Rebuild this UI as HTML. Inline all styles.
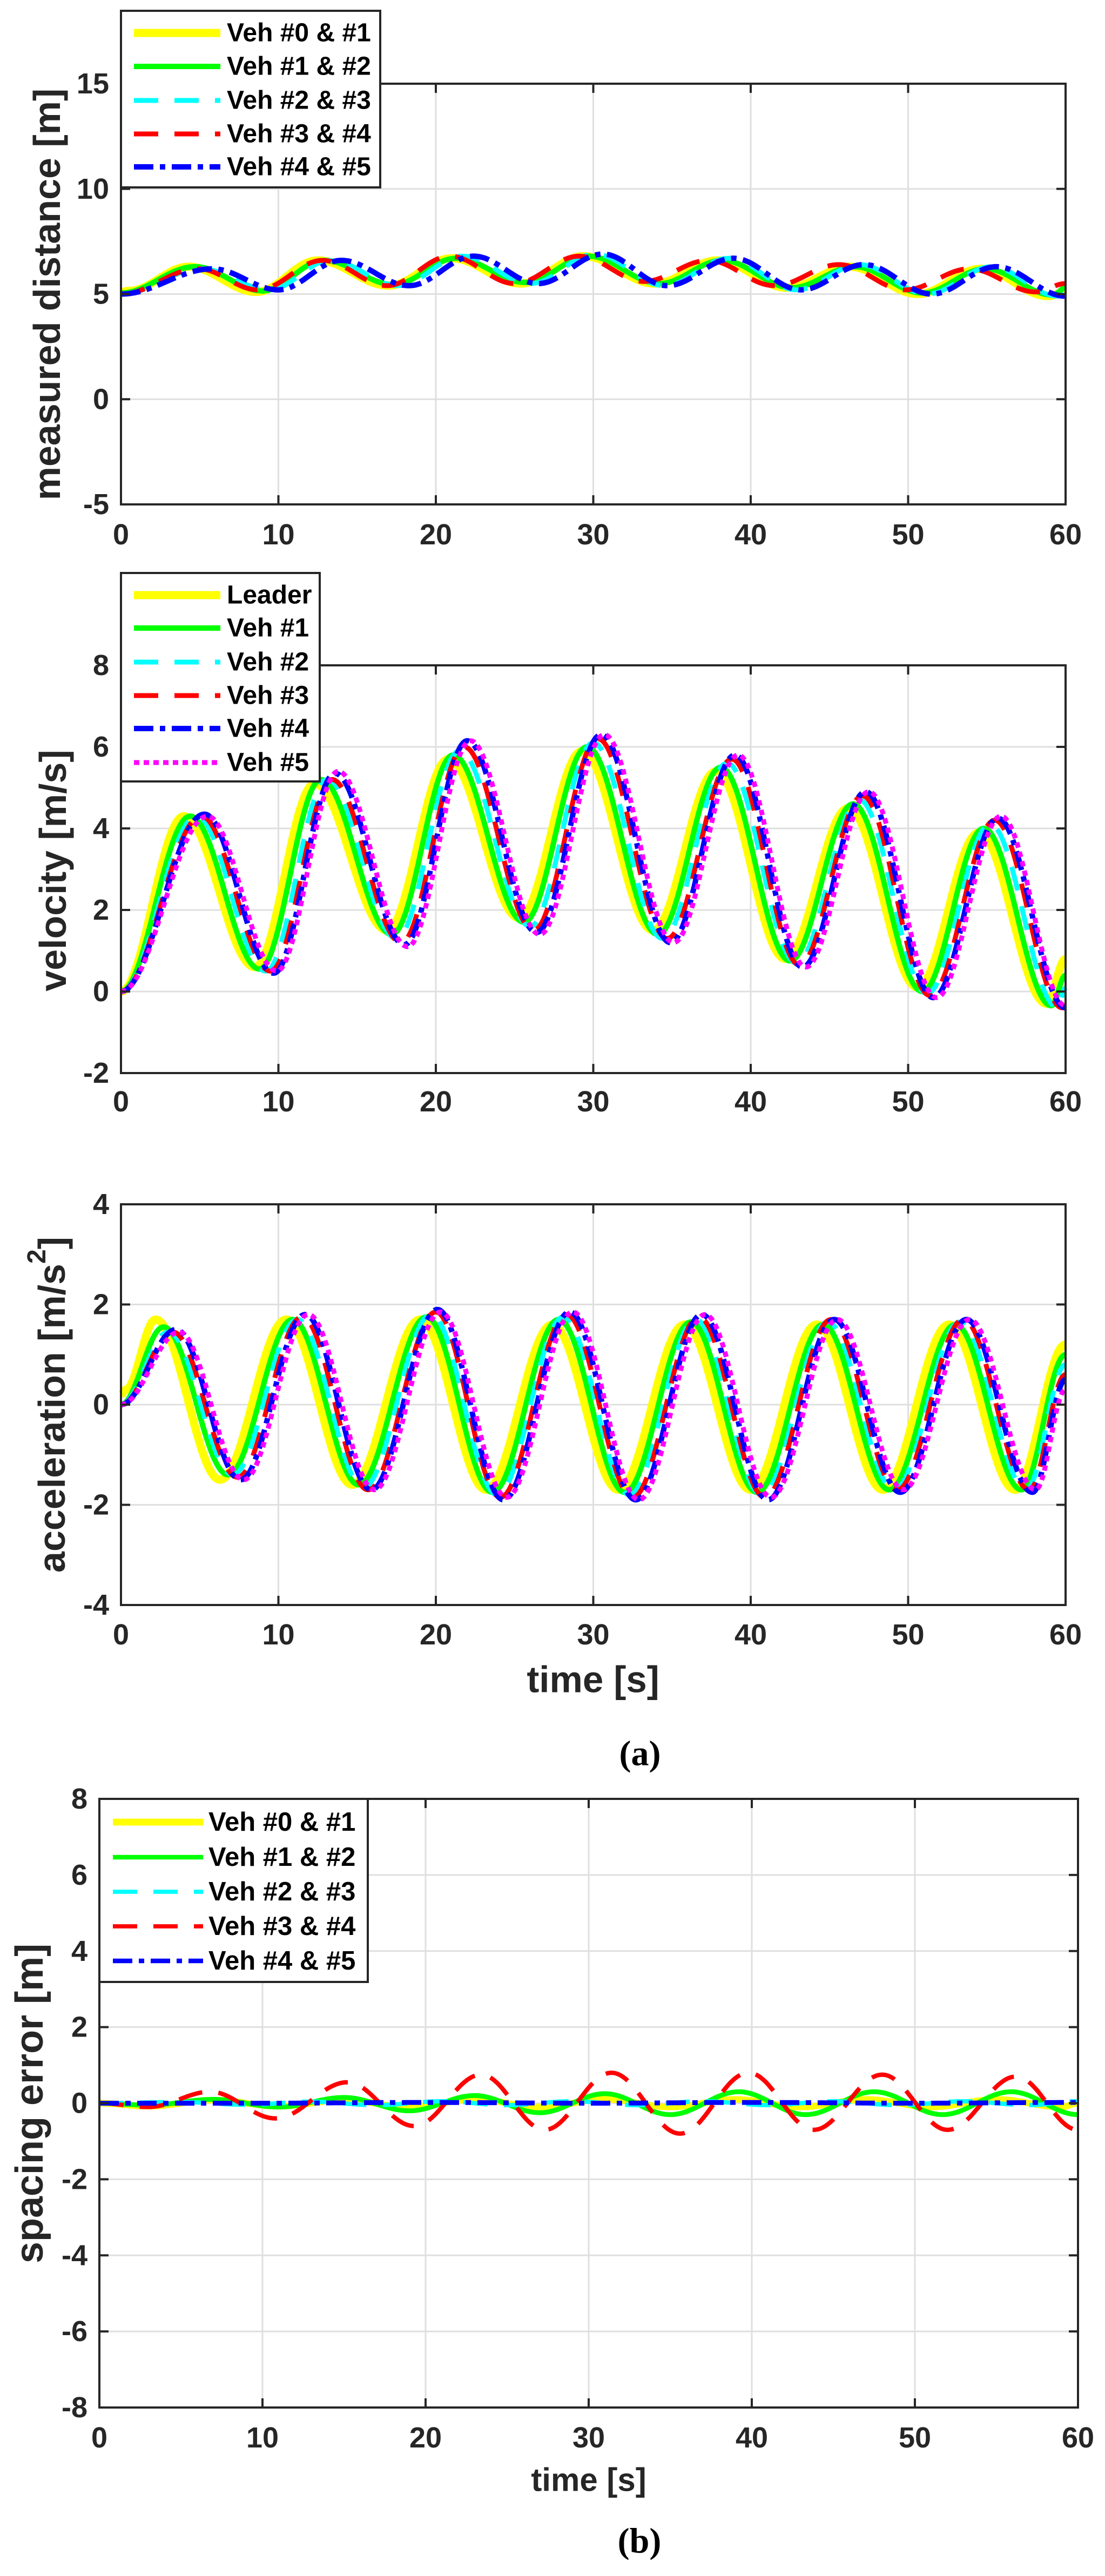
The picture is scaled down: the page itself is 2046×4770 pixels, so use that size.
<!DOCTYPE html>
<html><head><meta charset="utf-8"><style>
html,body{margin:0;padding:0;background:#fff}
svg text{font-family:"Liberation Sans",Arial,sans-serif;font-weight:bold;fill:#262626}
</style></head><body>
<svg id="fig" xmlns="http://www.w3.org/2000/svg" width="2046" height="4765" viewBox="0 0 2046 4765"></svg>
<script>
// ---- data: keypoints (time [s], value) ----
const xTicks=[0,10,20,30,40,50,60];
const distTicks=[-5,0,5,10,15];
const velTicks=[-2,0,2,4,6,8];
const accTicks=[-4,-2,0,2,4];
const errTicks=[-8,-6,-4,-2,0,2,4,6,8];

const d01T=[0,0.5,4.3,8.6,12.5,17.0,21.0,25.4,29.4,33.9,37.9,42.3,46.3,50.6,54.6,58.9,60];
const d01V=[5.1,5.15,6.3,5.1,6.6,5.4,6.7,5.5,6.8,5.5,6.6,5.3,6.3,5.0,6.2,4.9,5.1];
const d12T=[0,4.7,9.0,12.9,17.3,21.3,25.7,29.7,34.2,38.2,42.6,46.6,50.9,54.9,59.2,60];
const d12V=[5.05,6.3,5.15,6.6,5.45,6.7,5.55,6.8,5.5,6.6,5.3,6.3,5.05,6.2,4.95,5.3];
const d23T=[0,5.1,9.4,13.3,17.6,21.7,26.0,30.1,34.5,38.6,42.9,46.9,51.2,55.3,59.5,60];
const d23V=[5.0,6.2,5.2,6.6,5.4,6.8,5.5,6.9,5.4,6.7,5.2,6.4,5.0,6.3,4.9,5.0];
const d34T=[0,4.9,8.7,12.8,16.9,20.9,25.0,29.1,33.2,37.3,41.5,45.6,49.8,53.9,58.1,60];
const d34V=[5.0,6.2,5.2,6.6,5.4,6.8,5.5,6.8,5.6,6.6,5.4,6.4,5.2,6.2,5.1,5.5];
const d45T=[0,5.8,10.0,14.0,18.3,22.4,26.5,30.6,34.7,38.9,43.2,47.2,51.5,55.6,60];
const d45V=[5.0,6.2,5.2,6.6,5.4,6.8,5.5,6.9,5.4,6.7,5.2,6.4,5.0,6.3,4.9];

const vLT=[0,4.0,8.5,12.3,16.9,20.8,25.3,29.3,33.8,37.8,42.2,46.2,50.6,54.5,58.8,60];
const vLV=[0,4.3,0.6,5.1,1.5,5.7,1.8,5.9,1.5,5.4,0.8,4.5,0.1,3.9,-0.3,0.8];
const v1T=[0,4.4,8.8,12.7,17.2,21.1,25.6,29.6,34.1,38.1,42.5,46.5,50.9,54.8,59.1,60];
const v1V=[0,4.3,0.55,5.2,1.4,5.8,1.7,6.0,1.4,5.5,0.75,4.6,0.0,4.0,-0.35,0.4];
const v2T=[0,4.8,9.2,13.1,17.5,21.5,26.0,30.0,34.4,38.5,42.9,46.9,51.2,55.2,59.5,60];
const v2V=[0,4.3,0.5,5.2,1.3,5.9,1.6,6.1,1.3,5.6,0.7,4.7,-0.05,4.1,-0.4,0.1];
const v3T=[0,5.1,9.5,13.4,17.8,21.8,26.2,30.3,34.7,38.8,43.1,47.1,51.4,55.5,59.8,60];
const v3V=[0,4.3,0.5,5.2,1.2,6.0,1.5,6.2,1.3,5.7,0.65,4.8,-0.1,4.2,-0.4,-0.35];
const v4T=[0,5.3,9.7,13.6,18.0,22.0,26.4,30.5,34.9,39.0,43.3,47.3,51.6,55.7,60];
const v4V=[0,4.35,0.45,5.35,1.15,6.15,1.45,6.3,1.2,5.8,0.6,4.9,-0.15,4.25,-0.4];
const v5T=[0,5.5,9.9,13.8,18.2,22.2,26.6,30.7,35.1,39.2,43.5,47.5,51.8,55.9,60];
const v5V=[0,4.3,0.5,5.4,1.1,6.15,1.4,6.3,1.2,5.8,0.6,4.9,-0.15,4.3,-0.35];

const aLT=[0,0.3,2.2,6.3,10.5,14.7,19.0,23.2,27.4,31.6,35.8,40.0,44.2,48.4,52.6,56.8,60];
const aLV=[0.2,0.3,1.7,-1.5,1.7,-1.6,1.7,-1.7,1.6,-1.7,1.6,-1.7,1.6,-1.7,1.6,-1.7,1.2];
const a1T=[0,2.7,6.8,10.9,15.1,19.4,23.6,27.8,32.0,36.2,40.4,44.6,48.8,53.0,57.2,60];
const a1V=[0,1.55,-1.4,1.7,-1.6,1.75,-1.75,1.7,-1.75,1.65,-1.75,1.6,-1.7,1.6,-1.7,1.0];
const a2T=[0,3.0,7.1,11.2,15.4,19.7,23.9,28.1,32.3,36.5,40.7,44.9,49.1,53.3,57.5,60];
const a2V=[0,1.45,-1.4,1.7,-1.65,1.8,-1.8,1.75,-1.8,1.7,-1.8,1.65,-1.7,1.65,-1.7,0.8];
const a3T=[0,3.3,7.4,11.5,15.7,20.0,24.1,28.3,32.5,36.7,40.9,45.1,49.3,53.5,57.7,60];
const a3V=[0,1.45,-1.45,1.75,-1.7,1.85,-1.85,1.8,-1.85,1.75,-1.85,1.7,-1.7,1.7,-1.7,0.6];
const a4T=[0,3.5,7.6,11.7,15.9,20.1,24.3,28.5,32.7,36.9,41.1,45.3,49.5,53.7,57.9,60];
const a4V=[0,1.5,-1.5,1.8,-1.7,1.9,-1.9,1.85,-1.9,1.8,-1.9,1.7,-1.75,1.7,-1.75,0.5];
const a5T=[0,3.7,7.8,11.9,16.1,20.3,24.5,28.7,32.9,37.1,41.3,45.5,49.7,53.9,58.1,60];
const a5V=[0,1.45,-1.5,1.8,-1.7,1.85,-1.85,1.85,-1.9,1.8,-1.85,1.7,-1.7,1.7,-1.7,0.3];

const e01T=[0,3,7,11,15,19,23,27,31,35,39,43,47,51,55,59,60];
const e01V=[0,-0.08,0.08,-0.08,0.08,-0.1,0.1,-0.1,0.1,-0.1,0.1,-0.1,0.1,-0.1,0.1,-0.1,0];
const e12T=[0,3,7,11,15,19,23,27,31,35,39.2,43.3,47.5,51.7,55.9,60];
const e12V=[0,-0.05,0.1,-0.1,0.15,-0.2,0.2,-0.25,0.25,-0.3,0.3,-0.3,0.3,-0.3,0.3,-0.3];
const e23T=[0,5,9,13,17,21,25,29,33,37,41,45,49,53,57,60];
const e23V=[0,0.03,-0.04,0.04,-0.05,0.05,-0.05,0.05,-0.05,0.05,-0.05,0.05,-0.05,0.05,-0.05,0.05];
const e34T=[0,3,6.8,10.8,15.2,19.3,23.4,27.3,31.4,35.6,39.8,43.8,48,52,56.2,60];
const e34V=[0,-0.1,0.3,-0.4,0.55,-0.6,0.75,-0.7,0.8,-0.8,0.8,-0.7,0.75,-0.7,0.7,-0.7];
const e45T=[0,10,20,30,40,50,60];
const e45V=[0,0,0.02,0,0.02,0,0.02];

// ---- rendering ----
const NS='http://www.w3.org/2000/svg';
const svg=document.getElementById('fig');
function mk(tag,attrs,parent){const e=document.createElementNS(NS,tag);for(const k in attrs)e.setAttribute(k,attrs[k]);(parent||svg).appendChild(e);return e;}
const STY={
 yellow:{c:'#ffff00',w:15,d:''},
 green:{c:'#00ff00',w:10,d:''},
 cyan:{c:'#00ffff',w:9,d:'45 30'},
 red:{c:'#ff0000',w:9,d:'45 30'},
 blue:{c:'#0000ff',w:10,d:'36 12 10 12'},
 magenta:{c:'#ff00ff',w:9,d:'10 8'}
};
function axes(name,ax){
 const g=mk('g',{});
 
 
 ax.sx=v=>ax.x0+(v-ax.xmin)/(ax.xmax-ax.xmin)*(ax.x1-ax.x0);
 ax.sy=v=>ax.yb-(v-ax.ymin)/(ax.ymax-ax.ymin)*(ax.yb-ax.yt);
 mk('rect',{x:ax.x0,y:ax.yt,width:ax.x1-ax.x0,height:ax.yb-ax.yt,fill:'#fff'},g);
 xTicks.forEach(t=>{const x=ax.sx(t);
  const l=mk('line',{x1:x,x2:x,y1:ax.yt,y2:ax.yb,stroke:'#dfdfdf','stroke-width':3},g);
  });
 ax.yt_.forEach(t=>{const y=ax.sy(t);
  const l=mk('line',{x1:ax.x0,x2:ax.x1,y1:y,y2:y,stroke:'#dfdfdf','stroke-width':3},g);
  });
 ax.g=g;return ax;
}
function frame(ax){
 const tl=17;
 const fg=mk('g',{},svg);
 xTicks.forEach(t=>{const x=ax.sx(t);
  mk('line',{x1:x,x2:x,y1:ax.yb,y2:ax.yb-tl,stroke:'#262626','stroke-width':4},fg);
  mk('line',{x1:x,x2:x,y1:ax.yt,y2:ax.yt+tl,stroke:'#262626','stroke-width':4},fg);
  const tx=mk('text',{x:x,y:ax.xly,'text-anchor':'middle','font-size':ax.fs,'dominant-baseline':'central'},fg);
  tx.textContent=t;});
 ax.yt_.forEach(t=>{const y=ax.sy(t);
  mk('line',{x1:ax.x0,x2:ax.x0+tl,y1:y,y2:y,stroke:'#262626','stroke-width':4},fg);
  mk('line',{x1:ax.x1,x2:ax.x1-tl,y1:y,y2:y,stroke:'#262626','stroke-width':4},fg);
  const tx=mk('text',{x:ax.x0-22,y:y,'text-anchor':'end','font-size':ax.fs,'dominant-baseline':'central'},fg);
  tx.textContent=t;});
 const r=mk('rect',{x:ax.x0,y:ax.yt,width:ax.x1-ax.x0,height:ax.yb-ax.yt,fill:'none',stroke:'#262626','stroke-width':4},fg);
 
}
function series(ax,T,V,sty,name,wmul){
 let d='';
 for(let i=0;i<T.length-1;i++){
  const n=Math.max(2,Math.ceil((T[i+1]-T[i])*12));
  for(let k=(i?1:0);k<=n;k++){
   const u=k/n, s=(1-Math.cos(Math.PI*u))/2;
   const t=T[i]+(T[i+1]-T[i])*u, v=V[i]+(V[i+1]-V[i])*s;
   d+=(d?'L':'M')+ax.sx(t).toFixed(1)+' '+ax.sy(v).toFixed(1);
  }
 }
 const p=mk('path',{d:d,fill:'none',stroke:sty.c,'stroke-width':sty.w*(wmul||1),'stroke-dasharray':sty.d,'stroke-linejoin':'round'},ax.g);
 
 
}
function legend(name,x0,y0,x1,y1,rows,sx0,sx1,tx,fs,wmul){
 const g=mk('g',{});
 
 
 mk('rect',{x:x0,y:y0,width:x1-x0,height:y1-y0,fill:'#fff',stroke:'#262626','stroke-width':4},g);
 rows.forEach(r=>{
  const e=mk('g',{},g);
  
  
  mk('line',{x1:sx0,x2:sx1,y1:r.y,y2:r.y,stroke:r.s.c,'stroke-width':r.s.w*(wmul||1),'stroke-dasharray':r.s.d},e);
  const t=mk('text',{x:tx,y:r.y,'font-size':fs,'dominant-baseline':'central',fill:'#000'},e);
  t.textContent=r.t;t.style.fill='#000';
 });
}
function label(txt,x,y,fs,rot,name,font){
 const t=mk('text',{x:x,y:y,'font-size':fs,'text-anchor':'middle','dominant-baseline':'central',transform:rot?`rotate(-90 ${x} ${y})`:''});
 t.textContent=txt;
 if(font){t.style.fontFamily=font;t.style.fill='#000';}
 
 
 return t;
}

// Plot 1: measured distance
const A1=axes('distance-axes',{x0:224,x1:1973,yt:155,yb:934,xmin:0,xmax:60,ymin:-5,ymax:15,yt_:distTicks,xly:990,fs:54});
series(A1,d01T,d01V,STY.yellow,'line-veh0-1');
series(A1,d12T,d12V,STY.green,'line-veh1-2');
series(A1,d23T,d23V,STY.cyan,'line-veh2-3');
series(A1,d34T,d34V,STY.red,'line-veh3-4');
series(A1,d45T,d45V,STY.blue,'line-veh4-5');
frame(A1);
label('measured distance [m]',87,545,70,true,'y-axis-title-distance');
legend('legend-distance',224,20,704,347,[
 {y:61,s:STY.yellow,t:'Veh #0 & #1'},{y:123,s:STY.green,t:'Veh #1 & #2'},{y:186,s:STY.cyan,t:'Veh #2 & #3'},
 {y:248,s:STY.red,t:'Veh #3 & #4'},{y:309,s:STY.blue,t:'Veh #4 & #5'}],248,408,420,48);

// Plot 2: velocity
const A2=axes('velocity-axes',{x0:224,x1:1973,yt:1232,yb:1987,xmin:0,xmax:60,ymin:-2,ymax:8,yt_:velTicks,xly:2040,fs:54});
series(A2,vLT,vLV,STY.yellow,'line-leader');
series(A2,v1T,v1V,STY.green,'line-veh1');
series(A2,v2T,v2V,STY.cyan,'line-veh2');
series(A2,v3T,v3V,STY.red,'line-veh3');
series(A2,v4T,v4V,STY.blue,'line-veh4');
series(A2,v5T,v5V,STY.magenta,'line-veh5');
frame(A2);
label('velocity [m/s]',98,1612,70,true,'y-axis-title-velocity');
legend('legend-velocity',224,1061,592,1447,[
 {y:1102,s:STY.yellow,t:'Leader'},{y:1163,s:STY.green,t:'Veh #1'},{y:1226,s:STY.cyan,t:'Veh #2'},
 {y:1288,s:STY.red,t:'Veh #3'},{y:1349,s:STY.blue,t:'Veh #4'},{y:1412,s:STY.magenta,t:'Veh #5'}],248,408,420,48);

// Plot 3: acceleration
const A3=axes('acceleration-axes',{x0:224,x1:1973,yt:2230,yb:2972,xmin:0,xmax:60,ymin:-4,ymax:4,yt_:accTicks,xly:3027,fs:54});
series(A3,aLT,aLV,STY.yellow,'line-leader-acc');
series(A3,a1T,a1V,STY.green,'line-veh1-acc');
series(A3,a2T,a2V,STY.cyan,'line-veh2-acc');
series(A3,a3T,a3V,STY.red,'line-veh3-acc');
series(A3,a4T,a4V,STY.blue,'line-veh4-acc');
series(A3,a5T,a5V,STY.magenta,'line-veh5-acc');
frame(A3);
const acc=label('acceleration [m/s',96,2601,70,true,'y-axis-title-acceleration');
const sup=document.createElementNS(NS,'tspan');sup.setAttribute('dy','-28');sup.setAttribute('font-size','48');sup.textContent='2';acc.appendChild(sup);
const cl=document.createElementNS(NS,'tspan');cl.setAttribute('dy','28');cl.textContent=']';acc.appendChild(cl);
label('time [s]',1098,3110,69,false,'x-axis-title-a');
label('(a)',1185,3247,66,false,'caption-a','"Liberation Serif",serif');

// Plot b: spacing error
const B=axes('spacing-error-axes',{x0:184,x1:1996,yt:3331,yb:4458,xmin:0,xmax:60,ymin:-8,ymax:8,yt_:errTicks,xly:4514,fs:54});
series(B,e01T,e01V,STY.yellow,'line-err-veh0-1',0.8);
series(B,e12T,e12V,STY.green,'line-err-veh1-2',0.9);
series(B,e23T,e23V,STY.cyan,'line-err-veh2-3',0.9);
series(B,e34T,e34V,STY.red,'line-err-veh3-4',0.9);
series(B,e45T,e45V,STY.blue,'line-err-veh4-5',0.9);
frame(B);
label('spacing error [m]',55,3895,72,true,'y-axis-title-spacing-error');
legend('legend-spacing-error',184,3331,681,3670,[
 {y:3374,s:STY.yellow,t:'Veh #0 & #1'},{y:3439,s:STY.green,t:'Veh #1 & #2'},{y:3503,s:STY.cyan,t:'Veh #2 & #3'},
 {y:3567,s:STY.red,t:'Veh #3 & #4'},{y:3631,s:STY.blue,t:'Veh #4 & #5'}],209,376,386,49,0.85);
label('time [s]',1090,4592,60,false,'x-axis-title-b');
label('(b)',1184,4705,66,false,'caption-b','"Liberation Serif",serif');
</script>
</body></html>
